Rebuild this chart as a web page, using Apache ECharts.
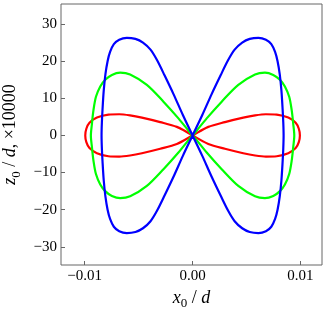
<!DOCTYPE html>
<html><head><meta charset="utf-8">
<script src="https://cdn.jsdelivr.net/npm/echarts@6/dist/echarts.min.js"></script>
<style>html,body{margin:0;padding:0;background:#fff}#c{width:327px;height:314px}</style>
</head><body><div id="c"></div>
<script>
// x0/d and z0/d (x10000), traced around each figure-eight
const redLoop = [
  [0,0],[-0.00146,2.3],[-0.003,3.6],[-0.0047,4.8],[-0.0058,5.4],[-0.0068,5.7],[-0.0078,5.6],[-0.00887,4.8],[-0.00956,3.4],[-0.00985,1.8],[-0.00995,0],
  [-0.00985,-1.8],[-0.00956,-3.4],[-0.00887,-4.8],[-0.0078,-5.6],[-0.0068,-5.7],[-0.0058,-5.4],[-0.0047,-4.8],[-0.003,-3.6],[-0.00146,-2.3],[0,0],
  [0.00146,2.3],[0.003,3.6],[0.0047,4.8],[0.0058,5.4],[0.0068,5.7],[0.0078,5.6],[0.00887,4.8],[0.00956,3.4],[0.00985,1.8],[0.00995,0],
  [0.00985,-1.8],[0.00956,-3.4],[0.00887,-4.8],[0.0078,-5.6],[0.0068,-5.7],[0.0058,-5.4],[0.0047,-4.8],[0.003,-3.6],[0.00146,-2.3],[0,0]
];
const greenLoop = [
  [0,0],[-0.0003,1.0],[-0.00131,4.6],[-0.0027,9.1],[-0.00424,13.6],[-0.00579,16.4],[-0.00671,16.9],[-0.00748,16.3],[-0.0081,15.0],[-0.00856,13.2],[-0.00896,10.4],[-0.00919,6.8],[-0.00933,3.2],[-0.00943,0],
  [-0.00933,-3.2],[-0.00919,-6.8],[-0.00896,-10.4],[-0.00856,-13.2],[-0.0081,-15.0],[-0.00748,-16.3],[-0.00671,-16.9],[-0.00579,-16.4],[-0.00424,-13.6],[-0.0027,-9.1],[-0.00131,-4.6],[-0.0003,-1.0],[0,0],
  [0.0003,1.0],[0.00131,4.6],[0.0027,9.1],[0.00424,13.6],[0.00579,16.4],[0.00671,16.9],[0.00748,16.3],[0.0081,15.0],[0.00856,13.2],[0.00896,10.4],[0.00919,6.8],[0.00933,3.2],[0.00943,0],
  [0.00933,-3.2],[0.00919,-6.8],[0.00896,-10.4],[0.00856,-13.2],[0.0081,-15.0],[0.00748,-16.3],[0.00671,-16.9],[0.00579,-16.4],[0.00424,-13.6],[0.0027,-9.1],[0.00131,-4.6],[0.0003,-1.0],[0,0]
];
const blueLoop = [
  [0,0],[-0.0009,5.5],[-0.00178,11.2],[-0.0026,16.2],[-0.0033,20.3],[-0.0039,23.1],[-0.0046,25.0],[-0.0053,26.0],[-0.0061,26.3],[-0.0068,25.8],[-0.0073,24.6],[-0.00765,22.5],[-0.00788,20.0],[-0.00808,16.5],[-0.00824,12.0],[-0.00835,7.0],[-0.00841,3.5],[-0.00844,0],
  [-0.00841,-3.5],[-0.00835,-7.0],[-0.00824,-12.0],[-0.00808,-16.5],[-0.00788,-20.0],[-0.00765,-22.5],[-0.0073,-24.6],[-0.0068,-25.8],[-0.0061,-26.3],[-0.0053,-26.0],[-0.0046,-25.0],[-0.0039,-23.1],[-0.0033,-20.3],[-0.0026,-16.2],[-0.00178,-11.2],[-0.0009,-5.5],[0,0],
  [0.0009,5.5],[0.00178,11.2],[0.0026,16.2],[0.0033,20.3],[0.0039,23.1],[0.0046,25.0],[0.0053,26.0],[0.0061,26.3],[0.0068,25.8],[0.0073,24.6],[0.00765,22.5],[0.00788,20.0],[0.00808,16.5],[0.00824,12.0],[0.00835,7.0],[0.00841,3.5],[0.00844,0],
  [0.00841,-3.5],[0.00835,-7.0],[0.00824,-12.0],[0.00808,-16.5],[0.00788,-20.0],[0.00765,-22.5],[0.0073,-24.6],[0.0068,-25.8],[0.0061,-26.3],[0.0053,-26.0],[0.0046,-25.0],[0.0039,-23.1],[0.0033,-20.3],[0.0026,-16.2],[0.00178,-11.2],[0.0009,-5.5],[0,0]
];
const xRange = [-0.0122, 0.0120];
const yRange = [-34.9, 35.4];

const FONT = 'Liberation Serif';
const frame = '#666';
function fmtX(v){ if (Math.abs(v) < 1e-9) return '0.00'; return (v < 0 ? '\u2212' : '') + Math.abs(v).toFixed(2); }
function fmtY(v){ if (Math.abs(v) < 1e-9) return '0'; return (v < 0 ? '\u2212' : '') + Math.abs(Math.round(v)); }
const rich = {
  i: {fontFamily: FONT, fontStyle: 'italic', fontSize: 18, color: '#000'},
  n: {fontFamily: FONT, fontSize: 18, color: '#000'},
  s: {fontFamily: FONT, fontSize: 13, color: '#000', padding: [12, 0, 0, 0]}
};
const chart = echarts.init(document.getElementById('c'), null, {renderer: 'canvas'});
const mk = (data, color) => ({type: 'line', data, showSymbol: false, smooth: 0.3,
  lineStyle: {color, width: 2.2}, itemStyle: {color}, animation: false, silent: true});
chart.setOption({
  animation: false,
  grid: {left: 61, top: 4, width: 261, height: 261, show: true, borderColor: frame, borderWidth: 1,
    containLabel: false, outerBoundsMode: 'none'},
  xAxis: {type: 'value', min: xRange[0], max: xRange[1], splitNumber: 2,
    axisLine: {show: false, onZero: false}, splitLine: {show: false},
    axisTick: {inside: true, length: 4, lineStyle: {color: frame}},
    axisLabel: {showMinLabel: false, showMaxLabel: false, margin: 4, fontFamily: FONT, fontSize: 15, color: '#000', formatter: fmtX},
    name: '{i|x}{s|0}{n| / }{i|d}', nameLocation: 'middle', nameGap: 19,
    nameTextStyle: {fontFamily: FONT, fontSize: 18, color: '#000', rich}},
  yAxis: {type: 'value', min: yRange[0], max: yRange[1], splitNumber: 7,
    axisLine: {show: false, onZero: false}, splitLine: {show: false},
    axisTick: {inside: true, length: 4, lineStyle: {color: frame}},
    axisLabel: {showMinLabel: false, showMaxLabel: false, margin: 4, fontFamily: FONT, fontSize: 15, color: '#000', formatter: fmtY},
    name: '{i|z}{s|0}{n| / }{i|d}{n|, \u00d710000}', nameLocation: 'middle', nameRotate: 90, nameGap: 31,
    nameTextStyle: {fontFamily: FONT, fontSize: 18, color: '#000', rich}},
  series: [mk(redLoop, '#ff0000'), mk(greenLoop, '#00ff00'), mk(blueLoop, '#0000ff')]
});
</script></body></html>
